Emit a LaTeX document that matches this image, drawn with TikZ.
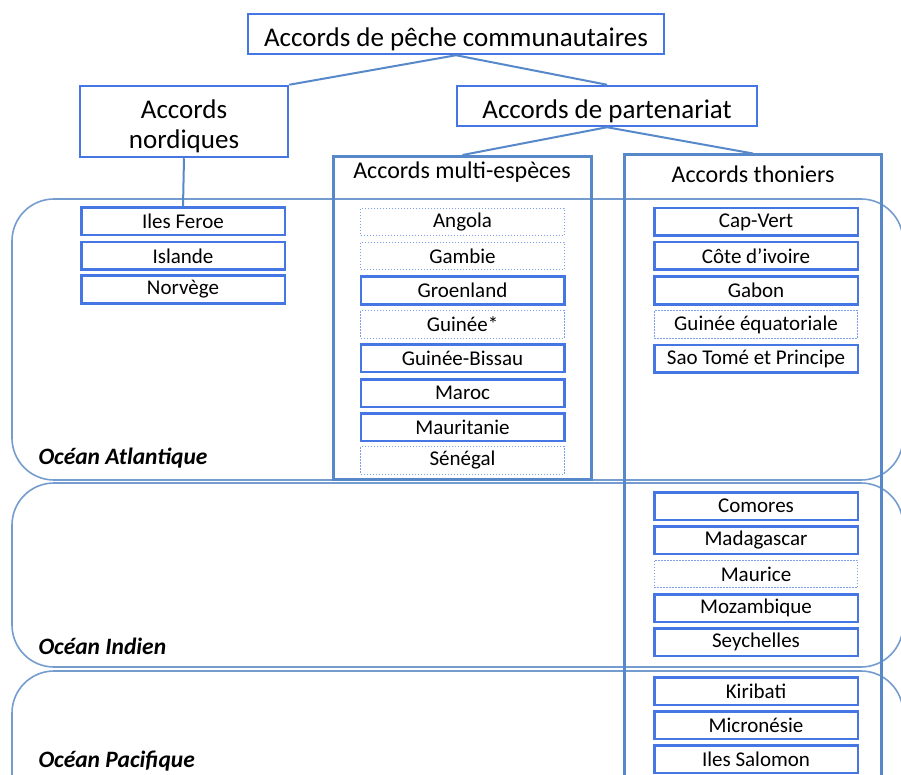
\documentclass[tikz,border=0pt]{standalone}
\usepackage{fontspec}
\setmainfont{Carlito}
\usepackage{xcolor}
\usepackage{tikz}

\definecolor{boxblue}{RGB}{70,118,228}
\definecolor{lineblue}{RGB}{86,136,202}
\definecolor{oceanblue}{RGB}{116,156,206}

\tikzset{
  titre/.style={draw=boxblue, line width=2.5pt, fill=white, inner sep=0pt,
    text height=28pt, text depth=3.5pt, font=\fontsize{27}{30}\selectfont},
  groupe/.style={draw=lineblue, line width=3pt, inner sep=0pt},
  entete/.style={font=\fontsize{24}{28}\selectfont},
  pays/.style={draw=boxblue, line width=2.5pt, fill=white, inner sep=0pt,
    minimum width=203.5pt, minimum height=27.5pt, font=\fontsize{21}{24}\selectfont},
  paysdot/.style={pays, draw=boxblue!70, line width=1.1pt, dash pattern=on 1.6pt off 1.4pt},
  ocean/.style={draw=oceanblue, line width=1.6pt, rounded corners=42pt},
  oceantxt/.style={anchor=west, font=\fontsize{23.5}{26}\selectfont\bfseries\itshape},
  lien/.style={draw=lineblue, line width=2pt},
}

\begin{document}
\begin{tikzpicture}[x=1pt,y=-1pt]
  \clip (0,0) rectangle (901,775);
  % oceans
  \draw[ocean] (12,199) rectangle (903,480);
  \draw[ocean] (12,483) rectangle (903,667);
  \draw[ocean] (12,671) rectangle (903,830);
  \node[oceantxt] (atlantique) at (35,458) {Océan Atlantique};
  \node[oceantxt] (indien) at (35,646) {Océan Indien};
  \node[oceantxt] (pacifique) at (35,761) {Océan Pacifique};

  % hierarchy
  \node[titre, minimum width=416pt, minimum height=40pt] (accords) at (456,34) {Accords de pêche communautaires};
  \node[titre, minimum width=208pt, minimum height=71pt, align=center,
    text height=58pt, text depth=4.5pt] (nordiques) at (184,121.5) {Accords\\nordiques};
  \node[titre, minimum width=300pt, minimum height=40pt] (partenariat) at (607,106) {Accords de partenariat};
  \node[groupe, minimum width=258pt, minimum height=323pt] (multi) at (462.5,318) {};
  \node[entete] (multititre) at (462,172) {Accords multi-espèces};
  \node[groupe, minimum width=257pt, minimum height=640pt] (thoniers) at (753,475) {};
  \node[entete] (thonierstitre) at (753,174) {Accords thoniers};

  % nordiques
  \node[pays] (feroe) at (183,221.5) {Iles Feroe};
  \node[pays] (islande) at (183,256) {Islande};
  \node[pays] (norvege) at (183,289.5) {Norvège};

  % multi-especes
  \node[paysdot] (angola) at (462.5,222) {Angola};
  \node[paysdot] (gambie) at (462.5,256) {Gambie};
  \node[pays] (groenland) at (462.5,290.5) {Groenland};
  \node[paysdot] (guinee) at (462.5,324.5) {Guinée*};
  \node[pays] (bissau) at (462.5,358) {Guinée-Bissau};
  \node[pays] (maroc) at (462.5,393) {Maroc};
  \node[pays] (mauritanie) at (462.5,427) {Mauritanie};
  \node[paysdot] (senegal) at (462.5,460.5) {Sénégal};

  % thoniers
  \node[pays] (capvert) at (756,222) {Cap-Vert};
  \node[pays] (ivoire) at (756,256) {Côte d’ivoire};
  \node[pays] (gabon) at (756,290.5) {Gabon};
  \node[paysdot] (equatoriale) at (756,324.5) {Guinée équatoriale};
  \node[pays] (saotome) at (756,358.5) {Sao Tomé et Principe};
  \node[pays] (comores) at (756,506) {Comores};
  \node[pays] (madagascar) at (756,540) {Madagascar};
  \node[paysdot] (maurice) at (756,574) {Maurice};
  \node[pays] (mozambique) at (756,608) {Mozambique};
  \node[pays] (seychelles) at (756,642) {Seychelles};
  \node[pays] (kiribati) at (756,691) {Kiribati};
  \node[pays] (micronesie) at (756,725) {Micronésie};
  \node[pays] (salomon) at (756,759) {Iles Salomon};

  % liens
  \draw[lien] (accords.south) -- (nordiques.north east);
  \draw[lien] (accords.south) -- (partenariat.north);
  \draw[lien] (partenariat.south) -- (multi.north);
  \draw[lien] (partenariat.south) -- (thoniers.north);
  \draw[lien] (nordiques.south) -- (feroe.north);
\end{tikzpicture}
\end{document}
